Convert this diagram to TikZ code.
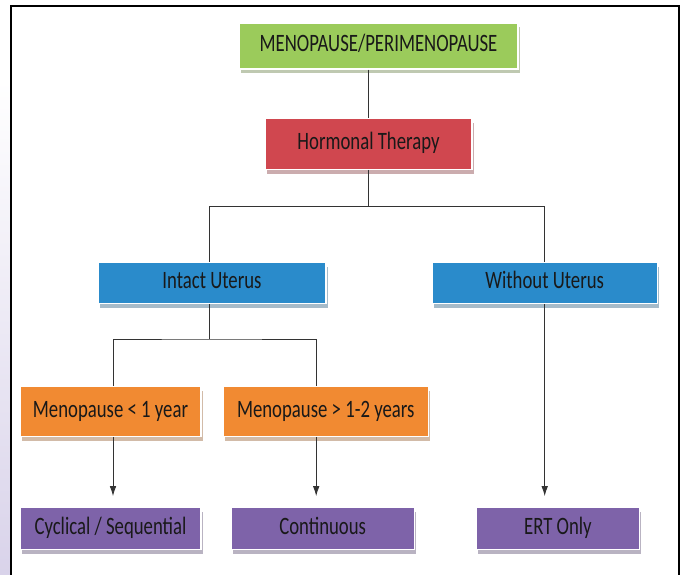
\documentclass[tikz,border=0pt]{standalone}
\usepackage{fontspec}
\setmainfont{Carlito}[FakeStretch=0.75]
\usepackage{xcolor}
\usetikzlibrary{shapes,arrows.meta,positioning,shadows}

\definecolor{menogreen}{HTML}{9BCB5B}
\definecolor{therapyred}{HTML}{D0474F}
\definecolor{uterusblue}{HTML}{2A8BCB}
\definecolor{yearorange}{HTML}{F18A32}
\definecolor{regimepurple}{HTML}{7E63A9}
\definecolor{linegray}{HTML}{333333}
\definecolor{edgepink}{HTML}{E2A6CF}
\definecolor{edgelilac}{HTML}{D9D3EA}

\begin{document}
\begin{tikzpicture}[
    box/.style={rectangle, draw=white, line width=1.2pt, fill=#1, inner sep=0pt, text=black!90,
        font=\fontsize{25pt}{28pt}\selectfont, text height=17pt, text depth=5pt,
        general shadow={fill=#1!40!gray!55, shadow yshift=-4.5pt, shadow xshift=1.5pt}},
    link/.style={linegray, line width=0.9pt},
    arrow/.style={-{Latex[length=10pt,width=6.5pt]}, linegray, line width=0.9pt, shorten >=11pt}
]
    \useasboundingbox (0,0) rectangle (683pt,-575pt);

    % Page edge and frame
    \shade[top color=white, middle color=edgepink, bottom color=edgelilac] (0,-80pt) rectangle (10pt,-575pt);
    \draw[line width=2.5pt] (11pt,-575pt) |- (679pt,-6pt) -- (679pt,-575pt);

    % Top
    \node[box=menogreen, minimum width=279pt, minimum height=46pt] (meno) at (378.5pt,-46pt) {MENOPAUSE/PERIMENOPAUSE};
    \node[box=therapyred, minimum width=207pt, minimum height=51pt, below=48pt of meno, xshift=-10pt] (hormonal) {Hormonal Therapy};

    % Uterus
    \node[box=uterusblue, minimum width=228pt, minimum height=41pt, below=92pt of hormonal, xshift=-156.5pt] (intact) {Intact Uterus};
    \node[box=uterusblue, minimum width=225pt, minimum height=41pt, right=105pt of intact] (without) {Without Uterus};

    % Time since menopause
    \node[box=yearorange, minimum width=181pt, minimum height=50pt, below=82pt of intact, xshift=-101.5pt] (lessone) {Menopause < 1 year};
    \node[box=yearorange, minimum width=205pt, minimum height=50pt, right=21pt of lessone] (moretwo) {Menopause > 1-2 years};

    % Regimen
    \node[box=regimepurple, minimum width=181pt, minimum height=42pt, below=70pt of lessone] (cyclical) {Cyclical / Sequential};
    \node[box=regimepurple, minimum width=183pt, minimum height=42pt, right=29pt of cyclical] (continuous) {Continuous};
    \node[box=regimepurple, minimum width=163pt, minimum height=42pt, right=61pt of continuous] (ert) {ERT Only};

    % Lines
    \coordinate[below=37pt of hormonal] (split);
    \coordinate[below=35pt of intact, xshift=-3pt] (splittwo);
    \draw[link] (meno.south -| hormonal.north) -- (hormonal.north);
    \draw[link] (hormonal.south) -- (split);
    \draw[link] ([xshift=-3pt]intact.north) |- (split) -| (without.north);
    \draw[link] (intact.south -| splittwo) -- (splittwo);
    \draw[link] ([xshift=2.5pt]lessone.north) |- (splittwo) -| ([xshift=-9.5pt]moretwo.north);

    % Arrows
    \draw[arrow] ([xshift=2.5pt]lessone.south) -- ([xshift=2.5pt]lessone.south |- cyclical.north);
    \draw[arrow] ([xshift=-9.5pt]moretwo.south) -- ([xshift=-9.5pt]moretwo.south |- continuous.north);
    \draw[arrow] (without.south) -- (without.south |- ert.north);
\end{tikzpicture}
\end{document}
